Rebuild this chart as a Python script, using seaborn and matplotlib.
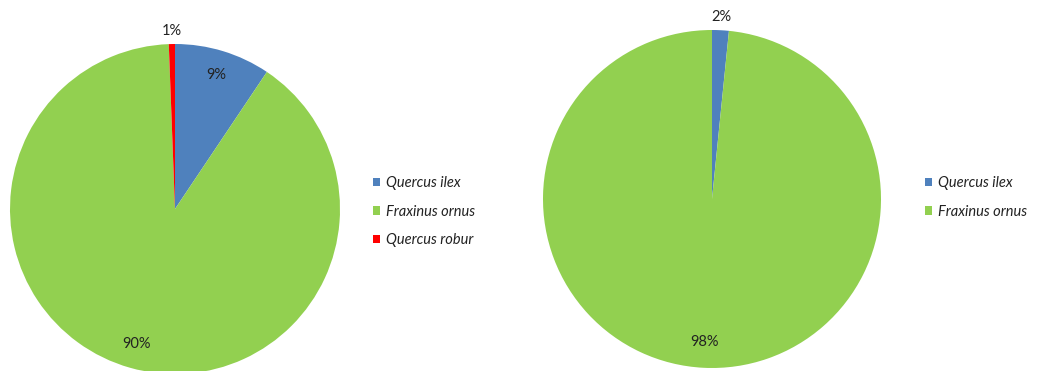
import matplotlib
matplotlib.use("Agg")
import matplotlib.pyplot as plt
from matplotlib.patches import Patch
import numpy as np
import seaborn as sns

sns.set_theme(style="white")
plt.rcParams["font.family"] = ["Lato", "DejaVu Sans"]

# Species composition, stand A
species_a = ["Quercus ilex", "Fraxinus ornus", "Quercus robur"]
share_a = [9.4, 90.0, 0.6]

# Species composition, stand B
species_b = ["Quercus ilex", "Fraxinus ornus"]
share_b = [1.6, 98.4]

palette = {"Quercus ilex": "#4F81BD", "Fraxinus ornus": "#92D050", "Quercus robur": "#FF0000"}

W, H = 1040, 371
fig = plt.figure(figsize=(W / 100, H / 100), dpi=100)
fig.patch.set_facecolor("white")


def pie_axes(cx, cy, r):
    # axes square of side 2r centred at pixel (cx, cy), y from top
    return fig.add_axes([(cx - r) / W, (H - cy - r) / H, 2 * r / W, 2 * r / H])


def draw_pie(ax, names, shares):
    colors = [palette[n] for n in names]
    wedges, _, autotexts = ax.pie(
        shares, colors=colors, startangle=90, counterclock=False,
        autopct="%.0f%%", pctdistance=0.85, radius=1.0,
        wedgeprops=dict(linewidth=0), textprops=dict(fontsize=10.5, color="#222222"),
    )
    for w, t, s in zip(wedges, autotexts, shares):
        if s < 5:
            ang = np.deg2rad((w.theta1 + w.theta2) / 2)
            t.set_position((1.08 * np.cos(ang), 1.08 * np.sin(ang)))
    ax.set_xlim(-1, 1)
    ax.set_ylim(-1, 1)
    ax.set_aspect("equal")
    ax.axis("off")


ax1 = pie_axes(175, 209, 165)
draw_pie(ax1, species_a, share_a)
ax2 = pie_axes(712, 199, 169)
draw_pie(ax2, species_b, share_b)


def add_legend(names, x, y):
    handles = [Patch(facecolor=palette[n], edgecolor="none", label=n) for n in names]
    fig.legend(
        handles=handles, loc="upper left", bbox_to_anchor=(x / W, 1 - y / H),
        bbox_transform=fig.transFigure, frameon=False,
        prop=dict(style="italic", size=10.5), handlelength=0.5, handleheight=0.5,
        handletextpad=0.4, labelspacing=1.0, borderaxespad=0, borderpad=0,
        labelcolor="#222222",
    )


add_legend(species_a, 373, 176)
add_legend(species_b, 925, 176)

fig.savefig("out.png", dpi=100, facecolor="white")
